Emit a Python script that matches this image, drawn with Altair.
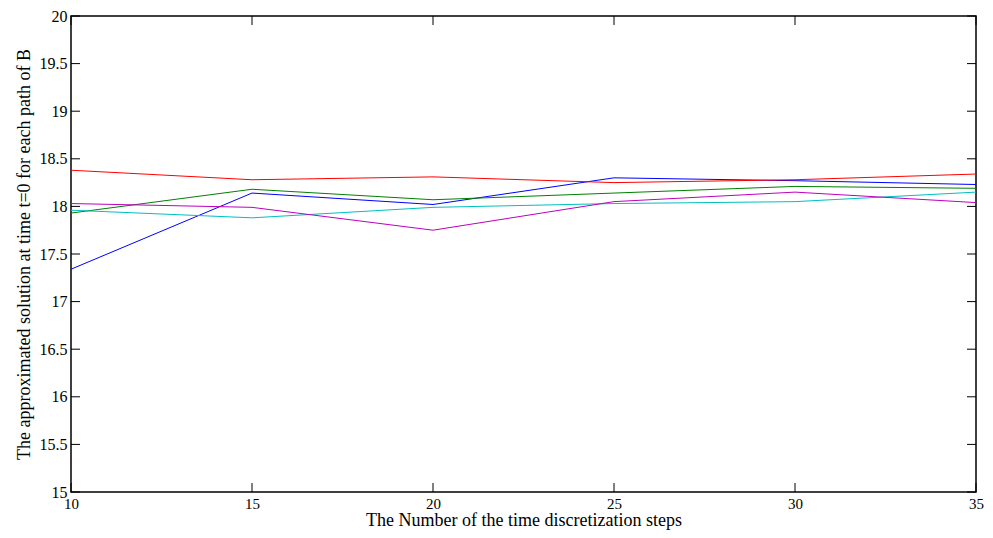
import altair as alt
import pandas as pd

steps = [10, 15, 20, 25, 30, 35]
blue = [17.34, 18.14, 18.02, 18.30, 18.27, 18.23]
green = [17.93, 18.18, 18.07, 18.14, 18.21, 18.19]
red = [18.38, 18.28, 18.31, 18.25, 18.28, 18.34]
cyan = [17.96, 17.88, 17.99, 18.03, 18.05, 18.15]
magenta = [18.03, 17.99, 17.75, 18.05, 18.15, 18.04]

series_names = ["b", "g", "r", "c", "m"]
series_vals = [blue, green, red, cyan, magenta]
series_colors = ["#0000ff", "#008000", "#ff0000", "#00bfbf", "#bf00bf"]

x_ticks = [10, 15, 20, 25, 30, 35]
y_ticks = [15, 15.5, 16, 16.5, 17, 17.5, 18, 18.5, 19, 19.5, 20]

W, H = 905, 476
TL = 9
FONT = "Liberation Serif"

rows = []
for name, vals in zip(series_names, series_vals):
    for s, v in zip(steps, vals):
        rows.append({"steps": s, "value": v, "series": name})
df = pd.DataFrame(rows)

xscale = alt.Scale(domain=[10, 35], nice=False, zero=False)
yscale = alt.Scale(domain=[15, 20], nice=False, zero=False)

xaxis = alt.Axis(values=x_ticks, format="~g", labelPadding=4,
                 title="The Number of the time discretization steps", titlePadding=0)
yaxis = alt.Axis(values=y_ticks, format="~g", labelPadding=4,
                 title="The approximated solution at time t=0 for each path of B",
                 titlePadding=6)

lines = alt.Chart(df).mark_line(strokeWidth=1, clip=True).encode(
    x=alt.X("steps:Q", scale=xscale, axis=xaxis),
    y=alt.Y("value:Q", scale=yscale, axis=yaxis),
    color=alt.Color("series:N", scale=alt.Scale(domain=series_names, range=series_colors),
                    legend=None),
    detail="series:N",
)

yt = pd.DataFrame({"v": y_ticks})
xt = pd.DataFrame({"v": x_ticks})

ytick_l = alt.Chart(yt).mark_rule(color="black", strokeWidth=1).encode(
    y=alt.Y("v:Q", scale=yscale, axis=yaxis), x=alt.value(0), x2=alt.value(TL))
ytick_r = alt.Chart(yt).mark_rule(color="black", strokeWidth=1).encode(
    y=alt.Y("v:Q", scale=yscale, axis=yaxis), x=alt.value(W - TL), x2=alt.value(W))
xtick_b = alt.Chart(xt).mark_rule(color="black", strokeWidth=1).encode(
    x=alt.X("v:Q", scale=xscale, axis=xaxis), y=alt.value(H - TL), y2=alt.value(H))
xtick_t = alt.Chart(xt).mark_rule(color="black", strokeWidth=1).encode(
    x=alt.X("v:Q", scale=xscale, axis=xaxis), y=alt.value(0), y2=alt.value(TL))

chart = alt.layer(lines, ytick_l, ytick_r, xtick_b, xtick_t).properties(
    width=W, height=H,
    background="white",
    autosize=alt.AutoSizeParams(type="none"),
    padding={"left": 63, "top": 8, "right": 9, "bottom": 38},
).configure_view(stroke="black", strokeWidth=1.5).configure_axis(
    ticks=False, domain=False, grid=False,
    labelFont=FONT, labelFontSize=16, labelColor="black", labelFlush=False,
    titleFont=FONT, titleFontSize=18, titleFontWeight="normal", titleColor="black",
).configure_axisX(labelFontSize=15, labelPadding=3)

chart.save("out.html", embed_options={"renderer": "svg", "actions": False})
